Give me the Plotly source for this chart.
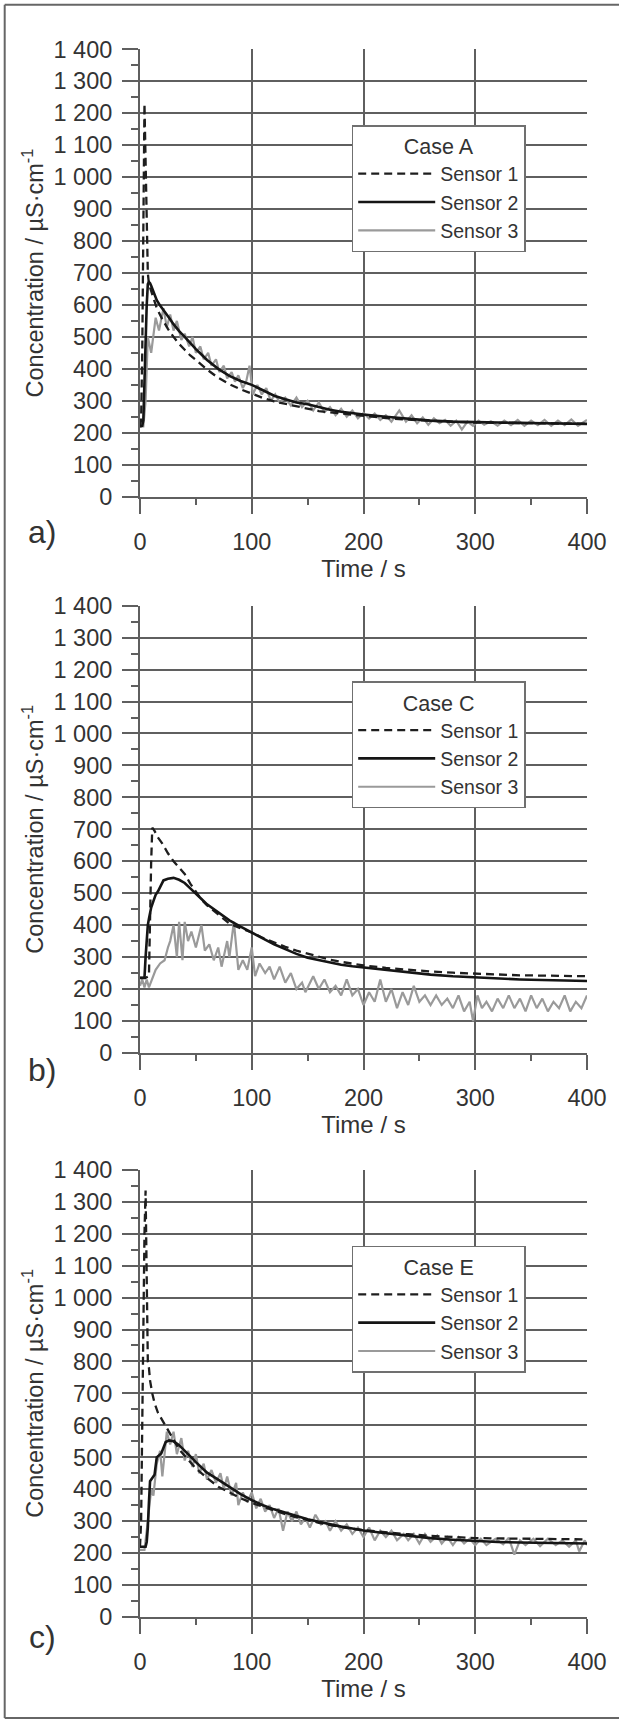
import plotly.graph_objects as go

# ---------------- data ----------------
x_ticks = [0, 100, 200, 300, 400]
x_tick_labels = ["0", "100", "200", "300", "400"]
y_ticks = [0, 100, 200, 300, 400, 500, 600, 700, 800, 900, 1000, 1100, 1200, 1300, 1400]
y_tick_labels = ["0", "100", "200", "300", "400", "500", "600", "700", "800", "900",
                 "1 000", "1 100", "1 200", "1 300", "1 400"]
series_names = ["Sensor 1", "Sensor 2", "Sensor 3"]
case_titles = ["Case A", "Case C", "Case E"]
panel_labels = ["a)", "b)", "c)"]

# Case A
a1_t = [0, 1, 2, 3, 4, 5, 6, 7, 8, 9, 10, 12, 15, 20, 25, 30, 35, 40, 45, 50, 60, 70, 80, 90, 100,
        110, 120, 130, 140, 150, 160, 170, 180, 190, 200, 220, 240, 260, 280, 300, 320, 340, 360, 380, 400]
a1_v = [220, 240, 450, 850, 1230, 1050, 850, 700, 665, 655, 645, 625, 590, 555, 525, 500, 478, 460, 442, 428,
        398, 372, 352, 336, 322, 309, 298, 290, 282, 275, 268, 264, 260, 256, 253, 246, 241, 237, 234, 232,
        231, 230, 229, 229, 228]
a2_t = [0, 2, 3, 4, 5, 6, 7, 8, 9, 10, 12, 15, 18, 22, 26, 30, 35, 40, 45, 50, 55, 60, 70, 80, 90, 100,
        110, 120, 130, 140, 150, 160, 170, 180, 190, 200, 220, 240, 260, 280, 300, 320, 340, 360, 380, 400]
a2_v = [220, 222, 240, 330, 480, 600, 665, 672, 668, 660, 640, 615, 598, 580, 560, 540, 518, 500, 480, 462,
        445, 428, 400, 378, 362, 350, 333, 316, 305, 295, 289, 280, 272, 266, 261, 257, 250, 244, 238, 235,
        233, 232, 231, 230, 229, 228]
a3_t = [0, 3, 5, 7, 10, 14, 17, 21, 24, 27, 30, 33, 37, 40, 44, 47, 50, 54, 57, 61, 64, 68, 71, 75, 78,
        82, 85, 88, 92, 95, 98, 101, 105, 109, 113, 117, 121, 125, 130, 135, 140, 145, 150, 155, 160, 165,
        170, 175, 180, 185, 190, 195, 200, 205, 210, 215, 220, 225, 232, 238, 243, 248, 253, 258, 263, 268,
        273, 278, 283, 288, 293, 298, 303, 308, 314, 320, 326, 332, 338, 344, 350, 356, 362, 368, 374, 380,
        386, 392, 400]
a3_v = [220, 220, 300, 500, 450, 560, 520, 590, 530, 570, 520, 550, 490, 510, 470, 500, 450, 470, 430, 450,
        410, 430, 390, 410, 370, 390, 360, 380, 340, 360, 410, 320, 350, 320, 340, 300, 320, 295, 310, 285,
        310, 280, 300, 270, 295, 265, 280, 255, 275, 250, 270, 245, 262, 245, 260, 240, 255, 235, 270, 235,
        255, 230, 248, 225, 245, 230, 240, 222, 238, 210, 235, 222, 238, 225, 236, 222, 238, 224, 240, 222,
        238, 224, 240, 222, 238, 224, 242, 222, 240]

# Case C
c1_t = [0, 5, 8, 9, 10, 11, 13, 16, 20, 25, 30, 35, 40, 45, 50, 55, 60, 65, 70, 75, 80, 90, 100, 110, 120,
        130, 140, 150, 160, 170, 180, 190, 200, 220, 240, 260, 280, 300, 320, 340, 360, 380, 400]
c1_v = [235, 235, 240, 460, 600, 705, 695, 675, 655, 625, 600, 580, 560, 530, 505, 480, 462, 448, 432, 418,
        405, 390, 377, 360, 345, 332, 320, 310, 300, 292, 285, 279, 274, 266, 260, 255, 251, 248, 245, 243,
        242, 241, 240]
c2_t = [0, 4, 5, 6, 7, 8, 10, 12, 14, 16, 18, 21, 25, 30, 35, 40, 45, 50, 55, 60, 65, 70, 80, 90, 100,
        110, 120, 130, 140, 150, 160, 170, 180, 190, 200, 220, 240, 260, 280, 300, 320, 340, 360, 380, 400]
c2_v = [235, 235, 300, 360, 400, 420, 455, 475, 495, 505, 520, 540, 545, 548, 542, 532, 515, 500, 482, 465,
        452, 440, 415, 395, 377, 358, 340, 325, 310, 298, 290, 283, 276, 271, 267, 259, 252, 245, 240, 236,
        233, 230, 228, 226, 225]
c3_t = [0, 2, 4, 6, 8, 10, 14, 18, 22, 25, 27, 30, 33, 35, 38, 40, 43, 46, 50, 55, 58, 62, 66, 70, 73, 78,
        80, 84, 88, 92, 96, 100, 103, 107, 112, 116, 120, 125, 130, 135, 140, 145, 148, 155, 160, 165, 170,
        175, 180, 185, 190, 195, 200, 205, 210, 215, 220, 225, 230, 235, 240, 245, 250, 255, 260, 265, 270,
        275, 280, 285, 290, 295, 298, 302, 306, 310, 315, 320, 325, 330, 335, 340, 345, 350, 355, 360, 365,
        370, 375, 380, 385, 390, 395, 400]
c3_v = [210, 230, 205, 230, 205, 225, 260, 280, 290, 330, 350, 400, 300, 410, 290, 410, 350, 380, 330, 400,
        320, 340, 290, 330, 270, 350, 300, 410, 260, 290, 260, 330, 240, 280, 250, 270, 230, 270, 220, 250,
        200, 220, 190, 240, 200, 230, 190, 210, 180, 230, 180, 200, 150, 190, 160, 230, 160, 200, 140, 190,
        150, 210, 160, 180, 150, 180, 150, 170, 140, 180, 130, 160, 100, 180, 140, 160, 130, 170, 140, 180,
        140, 170, 130, 180, 140, 170, 130, 160, 140, 180, 130, 160, 140, 180]

# Case E
e1_t = [0, 1, 2, 3, 4, 5, 6, 7, 8, 9, 11, 13, 16, 20, 23, 26, 30, 35, 40, 45, 50, 60, 70, 80, 90, 100,
        110, 120, 130, 140, 150, 160, 170, 180, 190, 200, 220, 240, 260, 280, 300, 320, 340, 360, 380, 400]
e1_v = [220, 300, 600, 950, 1200, 1335, 1000, 800, 780, 740, 700, 670, 640, 615, 600, 580, 555, 525, 505,
        485, 465, 435, 408, 390, 372, 357, 345, 333, 322, 312, 303, 295, 288, 281, 276, 272, 265, 259, 254,
        250, 247, 246, 245, 244, 243, 243]
e2_t = [0, 5, 6, 7, 8, 9, 11, 13, 15, 17, 19, 21, 23, 26, 30, 35, 40, 45, 50, 55, 60, 70, 80, 90, 100,
        110, 120, 130, 140, 150, 160, 170, 180, 190, 200, 220, 240, 260, 280, 300, 320, 340, 360, 380, 400]
e2_v = [220, 220, 235, 280, 360, 425, 435, 445, 500, 505, 512, 530, 548, 553, 550, 538, 522, 503, 485, 468,
        452, 430, 408, 385, 366, 350, 337, 326, 316, 306, 298, 290, 283, 277, 271, 262, 254, 247, 242, 238,
        235, 233, 232, 231, 230]
e3_t = [0, 4, 7, 10, 12, 15, 18, 20, 24, 27, 30, 33, 37, 40, 43, 47, 50, 53, 57, 60, 64, 68, 72, 75, 78,
        82, 86, 88, 92, 96, 100, 104, 108, 112, 116, 120, 124, 128, 132, 136, 140, 144, 148, 152, 157, 162,
        166, 170, 175, 180, 185, 190, 195, 200, 205, 210, 215, 220, 225, 230, 236, 240, 245, 250, 255, 260,
        266, 270, 275, 280, 285, 290, 295, 300, 305, 310, 318, 325, 330, 335, 340, 345, 352, 358, 365, 372,
        378, 384, 390, 393, 398, 400]
e3_v = [210, 210, 300, 400, 380, 480, 520, 440, 580, 540, 580, 510, 560, 490, 520, 470, 510, 450, 480, 430,
        460, 420, 450, 400, 440, 380, 420, 350, 390, 360, 390, 340, 370, 330, 350, 310, 340, 270, 330, 300,
        330, 290, 310, 280, 320, 290, 300, 270, 300, 270, 290, 260, 280, 250, 280, 240, 270, 250, 270, 240,
        260, 240, 260, 230, 260, 235, 255, 230, 250, 225, 250, 230, 245, 225, 245, 225, 245, 228, 248, 195,
        240, 225, 245, 222, 245, 225, 240, 220, 240, 205, 240, 225]

panels = [
    [(a1_t, a1_v), (a2_t, a2_v), (a3_t, a3_v)],
    [(c1_t, c1_v), (c2_t, c2_v), (c3_t, c3_v)],
    [(e1_t, e1_v), (e2_t, e2_v), (e3_t, e3_v)],
]

# ---------------- layout geometry (pixels) ----------------
FIG_W, FIG_H = 619, 1721
ML, MR, MT, MB = 140, 32, 49, 104
PW, PH = FIG_W - ML - MR, FIG_H - MT - MB


def px_x(p):
    return (p - ML) / PW


def px_y(p):
    return (FIG_H - MB - p) / PH


panel_px = [(49.3, 496.7), (605.7, 1052.9), (1169.8, 1617.0)]  # (top, bottom)
legend_top_px = [125, 681.4, 1245.7]
legend_left_px = 351.7
label_y_px = [531.5, 1070, 1637]

FONT = "Liberation Sans, Arial, sans-serif"
TXT = "#333333"
GRID = "#5f5f5f"
FRAME = "#666666"
line_styles = [
    dict(color="#1e1e1e", width=2.3, dash="8px,5px"),
    dict(color="#151515", width=2.6),
    dict(color="#9a9a9a", width=2.2),
]

fig = go.Figure()
legend_keys = ["legend", "legend2", "legend3"]
for i, panel in enumerate(panels):
    xa = "x" if i == 0 else f"x{i+1}"
    ya = "y" if i == 0 else f"y{i+1}"
    for j in [2, 0, 1]:
        t, v = panel[j]
        fig.add_trace(go.Scatter(
            x=t, y=v, mode="lines", name=series_names[j], line=line_styles[j],
            xaxis=xa, yaxis=ya, legend=legend_keys[i], legendrank=j + 1,
            showlegend=True,
        ))

fx0, fy0, fy1, fxr = px_x(4.7), px_y(4.7), px_y(1718), px_x(640)
frame_line = dict(color=FRAME, width=2)
layout = dict(
    width=FIG_W, height=FIG_H,
    margin=dict(l=ML, r=MR, t=MT, b=MB, autoexpand=False),
    paper_bgcolor="white", plot_bgcolor="white",
    font=dict(family=FONT, color=TXT, size=23),
    shapes=[
        dict(type="line", xref="paper", yref="paper", x0=fx0, x1=fx0, y0=fy0, y1=fy1, line=frame_line),
        dict(type="line", xref="paper", yref="paper", x0=fx0, x1=fxr, y0=fy0, y1=fy0, line=frame_line),
        dict(type="line", xref="paper", yref="paper", x0=fx0, x1=fxr, y0=fy1, y1=fy1, line=frame_line),
    ],
    annotations=[],
)

for i in range(3):
    top, bot = panel_px[i]
    xk = "xaxis" if i == 0 else f"xaxis{i+1}"
    yk = "yaxis" if i == 0 else f"yaxis{i+1}"
    ya = "y" if i == 0 else f"y{i+1}"
    xa = "x" if i == 0 else f"x{i+1}"
    layout[xk] = dict(
        domain=[0, 1], anchor=ya, range=[0, 400], automargin=False,
        tickmode="array", tickvals=x_ticks, ticktext=x_tick_labels,
        ticks="outside", ticklen=15, tickwidth=1.5, tickcolor=GRID,
        ticklabelstandoff=8,
        showline=True, linecolor=GRID, linewidth=2,
        showgrid=True, gridcolor=GRID, gridwidth=1.5, zeroline=False,
        minor=dict(tickmode="linear", tick0=0, dtick=50, ticks="outside", ticklen=6,
                   tickwidth=1.5, tickcolor=GRID, showgrid=False),
        tickfont=dict(size=23.5, color=TXT, family=FONT),
        title=dict(text="Time / s", font=dict(size=24, color=TXT, family=FONT), standoff=0),
        fixedrange=True,
    )
    layout[yk] = dict(
        domain=[px_y(bot), px_y(top)], anchor=xa, range=[0, 1400], automargin=False,
        tickmode="array", tickvals=y_ticks, ticktext=y_tick_labels,
        ticks="outside", ticklen=16, tickwidth=1.5, tickcolor=GRID,
        ticklabelstandoff=5,
        showline=True, linecolor=GRID, linewidth=2,
        showgrid=True, gridcolor=GRID, gridwidth=1.5, zeroline=False,
        minor=dict(tickmode="linear", tick0=0, dtick=50, ticks="outside", ticklen=7,
                   tickwidth=1.5, tickcolor=GRID, showgrid=False),
        tickfont=dict(size=23.5, color=TXT, family=FONT),
        title=dict(text="Concentration / µS·cm<sup>-1</sup>",
                   font=dict(size=23.5, color=TXT, family=FONT), standoff=3),
        fixedrange=True,
    )
    layout[legend_keys[i]] = dict(
        x=px_x(legend_left_px), y=px_y(legend_top_px[i]), xanchor="left", yanchor="top",
        xref="paper", yref="paper",
        bgcolor="white", bordercolor="#707070", borderwidth=1.5,
        font=dict(size=19.5, color=TXT, family=FONT),
        title=dict(text=case_titles[i], side="top center",
                   font=dict(size=21.5, color=TXT, family=FONT)),
        itemwidth=77, traceorder="normal",
    )
    layout["annotations"].append(dict(
        text=panel_labels[i], xref="paper", yref="paper",
        x=px_x(42), y=px_y(label_y_px[i]), xanchor="center", yanchor="middle",
        showarrow=False, font=dict(size=32, color=TXT, family=FONT),
    ))

fig.update_layout(**layout)
fig.write_html(
    "out.html",
    config={"displayModeBar": False},
    post_script="document.body.style.margin='0';document.body.style.overflow='hidden';",
)
